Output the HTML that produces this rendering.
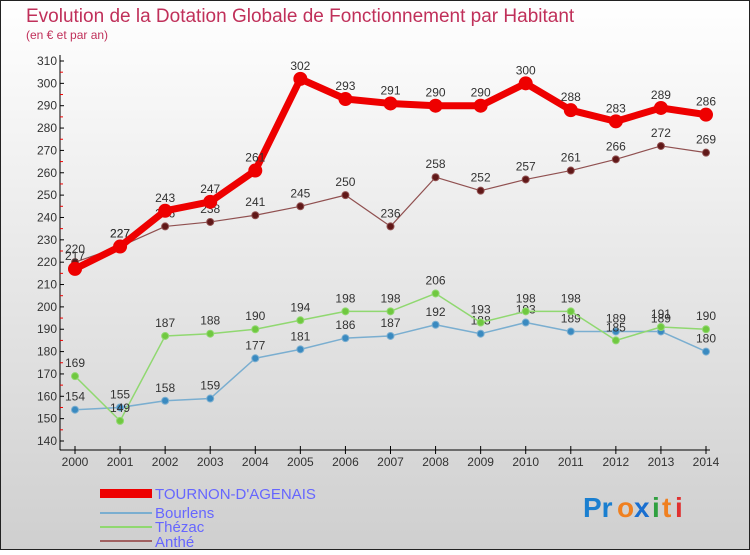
<!DOCTYPE html>
<html><head><meta charset="utf-8"><style>
body{margin:0;}
#c{width:750px;height:550px;position:relative;font-family:"Liberation Sans",sans-serif;}
</style></head><body>
<div id="c">
<svg id="s" width="750" height="550" xmlns="http://www.w3.org/2000/svg">
<defs><linearGradient id="bg" x1="0" y1="0" x2="0" y2="1"><stop offset="0" stop-color="#ffffff"/><stop offset="1" stop-color="#cfcfcf"/></linearGradient></defs>
<rect x="0.5" y="0.5" width="749" height="549" fill="url(#bg)" stroke="#222"/>
<text x="26" y="22" font-size="19" fill="#c0305a">Evolution de la Dotation Globale de Fonctionnement par Habitant</text>
<text x="26" y="39" font-size="12" fill="#c0305a">(en € et par an)</text>
<g id="axes"></g><g id="series"></g>
<g>
<rect x="100" y="489" width="52" height="9" fill="#e00"/>
<text x="155" y="499" font-size="15" fill="#6666ff">TOURNON-D'AGENAIS</text>
<line x1="100" y1="513" x2="152" y2="513" stroke="#7aaed0" stroke-width="2"/>
<text x="155" y="518" font-size="15" fill="#6666ff">Bourlens</text>
<line x1="100" y1="527" x2="152" y2="527" stroke="#90d870" stroke-width="2"/>
<text x="155" y="532" font-size="15" fill="#6666ff">Thézac</text>
<line x1="100" y1="541" x2="152" y2="541" stroke="#a06060" stroke-width="2"/>
<text x="155" y="547" font-size="15" fill="#6666ff">Anthé</text>
</g>
<g font-size="28" font-weight="bold">
<text x="583" y="517" fill="#1a7fd0">Pr</text><text x="617" y="517" fill="#f08020">o</text><text x="634" y="517" fill="#1a6fd0">x</text><text x="652" y="517" fill="#30a040">i</text><text x="662" y="517" fill="#f08020">t</text><text x="675" y="517" fill="#e03030">i</text>
</g>
</svg></div>
<script>
const years=[2000,2001,2002,2003,2004,2005,2006,2007,2008,2009,2010,2011,2012,2013,2014];
const yTicks=[140,150,160,170,180,190,200,210,220,230,240,250,260,270,280,290,300,310];
const tournon=[217,227,243,247,261,302,293,291,290,290,300,288,283,289,286];
const bourlens=[154,155,158,159,177,181,186,187,192,188,193,189,189,189,180];
const thezac=[169,149,187,188,190,194,198,198,206,193,198,198,185,191,190];
const anthe=[220,227,236,238,241,245,250,236,258,252,257,261,266,272,269];
const NS="http://www.w3.org/2000/svg";
const x=i=>75+i*(706-75)/(years.length-1);
const y=v=>61+(310-v)*(441-61)/170;
function mk(t,a,p){const e=document.createElementNS(NS,t);for(const k in a)e.setAttribute(k,a[k]);p.appendChild(e);return e;}
const ax=document.getElementById('axes');
const ya=mk('line',{x1:60,y1:55,x2:60,y2:450,stroke:'#000'},ax);


const xa=mk('line',{x1:60,y1:450,x2:710,y2:450,stroke:'#000'},ax);


yTicks.forEach(v=>{
 mk('line',{x1:60,y1:y(v),x2:64,y2:y(v),stroke:'#000'},ax);
 if(v<310)mk('line',{x1:60,y1:y(v+5),x2:63,y2:y(v+5),stroke:'#e00'},ax);
 const t=mk('text',{x:57,y:y(v)+4,'font-size':12,'text-anchor':'end',fill:'#333'},ax);t.textContent=v;
 
 
});
years.forEach((yr,i)=>{
 mk('line',{x1:x(i),y1:446,x2:x(i),y2:454,stroke:'#000'},ax);
 const t=mk('text',{x:x(i),y:466,'font-size':12,'text-anchor':'middle',fill:'#333'},ax);t.textContent=yr;
 
 
});
const sg=document.getElementById('series');
function series(d,name,col,w,r,dot){
 const g=mk('g',{},sg);
 
 
 mk('polyline',{points:d.map((v,i)=>x(i)+','+y(v)).join(' '),fill:'none',stroke:col,'stroke-width':w,'stroke-linejoin':'round'},g);
 d.forEach((v,i)=>{
  const c=mk('circle',{cx:x(i),cy:y(v),r:r,fill:dot,stroke:col},g);
  
  
  const t=mk('text',{x:x(i),y:y(v)-9,'font-size':12,'text-anchor':'middle',fill:'#333'},g);t.textContent=v;
  
  
 });
}
series(bourlens,'bourlens','#7aaed0',1.5,3.5,'#3a8ac0');
series(thezac,'thezac','#90d870',1.5,3.5,'#70c840');
series(anthe,'anthe','#905050',1.2,3.5,'#601818');
series(tournon,'tournon','#ee0000',7,6.5,'#ee0000');
</script>
</body></html>
